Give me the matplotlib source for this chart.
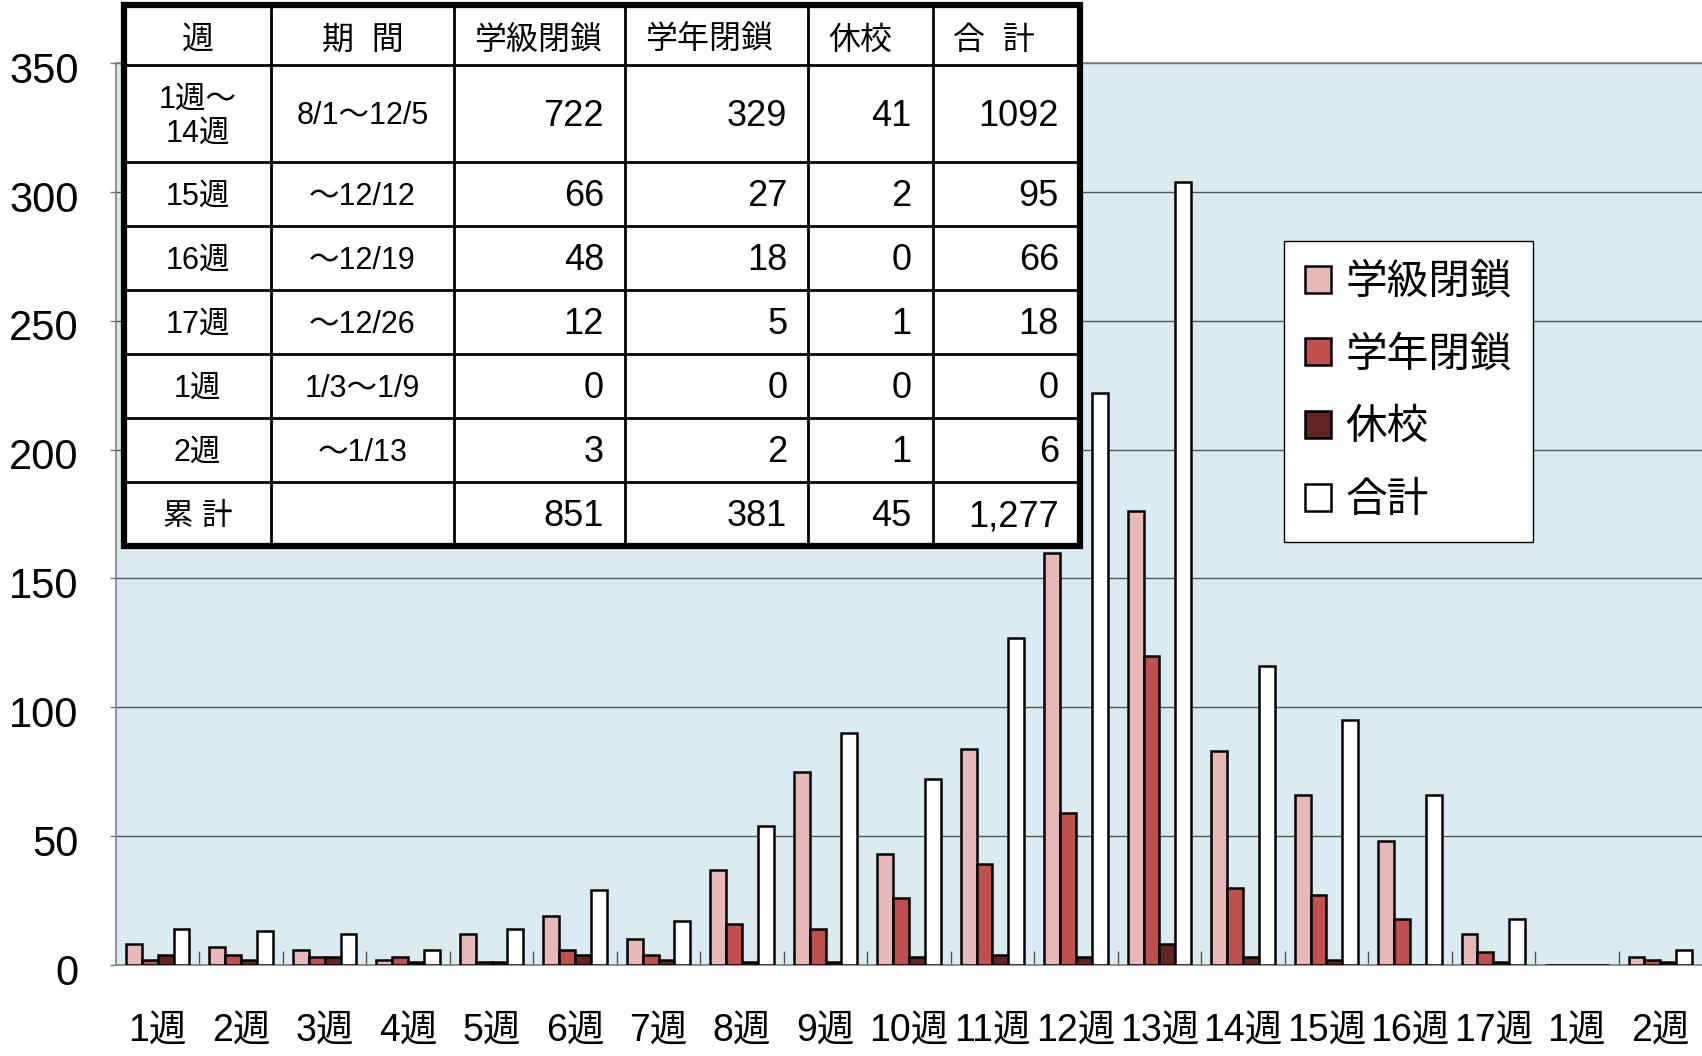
import matplotlib
matplotlib.use("Agg")
import matplotlib.pyplot as plt
import numpy as np
from matplotlib import font_manager as fm
from matplotlib.font_manager import FontProperties
from matplotlib.patches import Rectangle
from matplotlib.transforms import ScaledTranslation

# weekly closures (bars)
weeks = ["1週", "2週", "3週", "4週", "5週", "6週", "7週", "8週", "9週", "10週", "11週",
         "12週", "13週", "14週", "15週", "16週", "17週", "1週", "2週"]
class_closure = [8, 7, 6, 2, 12, 19, 10, 37, 75, 43, 84, 160, 176, 83, 66, 48, 12, 0, 3]
grade_closure = [2, 4, 3, 3, 1, 6, 4, 16, 14, 26, 39, 59, 120, 30, 27, 18, 5, 0, 2]
school_closure = [4, 2, 3, 1, 1, 4, 2, 1, 1, 3, 4, 3, 8, 3, 2, 0, 1, 0, 1]
total = [14, 13, 12, 6, 14, 29, 17, 54, 90, 72, 127, 222, 304, 116, 95, 66, 18, 0, 6]
series_names = ["学級閉鎖", "学年閉鎖", "休校", "合計"]
series_colors = ["#E6B9B8", "#C0504D", "#632523", "#FFFFFF"]

# summary table
tbl_header = ["週", "期  間", "学級閉鎖", "学年閉鎖", "休校", "合  計"]
tbl_week = ["1週～\n14週", "15週", "16週", "17週", "1週", "2週", "累 計"]
tbl_period = ["8/1～12/5", "～12/12", "～12/19", "～12/26", "1/3～1/9", "～1/13", ""]
tbl_class = ["722", "66", "48", "12", "0", "3", "851"]
tbl_grade = ["329", "27", "18", "5", "0", "2", "381"]
tbl_school = ["41", "2", "0", "1", "0", "1", "45"]
tbl_total = ["1092", "95", "66", "18", "0", "6", "1,277"]

installed = {f.name for f in fm.fontManager.ttflist}
NARROW = "Liberation Sans Narrow" if "Liberation Sans Narrow" in installed else "Liberation Sans"
YSIZE = 33 if NARROW == "Liberation Sans Narrow" else 30
JP = "Noto Sans CJK JP"
MIX = ["Liberation Sans", JP]

W, H = 1702, 1056
fig = plt.figure(figsize=(W / 100, H / 100), dpi=100)
ax = fig.add_axes([116 / W, 91 / H, 1586 / W, 902 / H])
ax.set_facecolor("#DAECF2")

x = np.arange(len(weeks))
bw = 0.19
for k, (vals, col, name) in enumerate(zip([class_closure, grade_closure, school_closure, total],
                                          series_colors, series_names)):
    ax.bar(x + (k - 1.5) * bw, vals, bw, color=col, edgecolor="black", linewidth=1.8,
           label=name, zorder=3)

ax.set_xlim(-0.5, len(weeks) - 0.5)
ax.set_ylim(0, 350)
yt = list(range(0, 351, 50))
ax.set_yticks(yt, [str(v) for v in yt], family=NARROW, fontsize=YSIZE)
ax.set_xticks(x, weeks, family=MIX, fontsize=27)
ax.set_xticks(np.arange(0.5, len(weeks) - 0.5, 1), minor=True)
ax.yaxis.grid(True, color="#555555", lw=1.0)
ax.set_axisbelow(True)
ax.tick_params(axis="x", which="major", length=0, pad=35)
ax.tick_params(axis="x", which="minor", direction="in", length=10, color="#555555", width=1)
ax.tick_params(axis="y", length=4, color="#777777", width=1, pad=23)
shift = ScaledTranslation(0, -3 / 72, fig.dpi_scale_trans)
for lbl in ax.get_yticklabels():
    lbl.set_transform(lbl.get_transform() + shift)
for s in ("left", "bottom", "top"):
    ax.spines[s].set_color("#808080"); ax.spines[s].set_linewidth(1.2)
ax.spines["right"].set_visible(False)

leg = ax.legend(loc="upper left", bbox_to_anchor=(1284 / W, 1 - 241 / H), bbox_transform=fig.transFigure,
                prop=FontProperties(family=JP, size=30), fancybox=False, edgecolor="black", framealpha=1,
                borderpad=0.5, labelspacing=0.76, handlelength=0.62, handleheight=0.62,
                handletextpad=0.36, borderaxespad=0)
leg.get_frame().set_linewidth(1.0)

# table drawn on its own axes (pixel-like units) over the plot
tax = fig.add_axes([124 / W, 1 - 546 / H, 956 / W, 541 / H])
tax.set_axis_off()
colw = [147, 182, 171, 183, 124, 147]
rowh = [60, 97, 64, 64, 64, 64, 64, 64]
xs = np.concatenate([[0], np.cumsum(colw)])
ys = np.concatenate([[0], np.cumsum(rowh)])
tax.set_xlim(0, xs[-1]); tax.set_ylim(ys[-1], 0)
tax.add_patch(Rectangle((0, 0), xs[-1], ys[-1], fc="white", ec="none"))
tax.vlines(xs[1:-1], 0, ys[-1], color="black", lw=2)
tax.hlines(ys[1:-1], 0, xs[-1], color="black", lw=2)
tax.add_patch(Rectangle((0, 0), xs[-1], ys[-1], fill=False, lw=4.5, ec="black", clip_on=False, zorder=5))

rows = [tbl_header] + [list(r) for r in zip(tbl_week, tbl_period, tbl_class, tbl_grade, tbl_school, tbl_total)]
for r, row in enumerate(rows):
    yc = (ys[r] + ys[r + 1]) / 2
    for c, txt in enumerate(row):
        if r == 0:
            if c >= 2:
                tax.text(xs[c] + 20, yc + 6, txt, ha="left", va="center", family=MIX, fontsize=23)
            else:
                tax.text((xs[c] + xs[c + 1]) / 2, yc + 6, txt, ha="center", va="center", family=MIX, fontsize=23)
        elif c >= 2:
            tax.text(xs[c + 1] - 21, yc + 3, txt, ha="right", va="center", family=MIX, fontsize=26)
        else:
            tax.text((xs[c] + xs[c + 1]) / 2, yc + 3, txt, ha="center", va="center", family=MIX,
                     fontsize=22, multialignment="center")

fig.savefig("out.png", dpi=100)
